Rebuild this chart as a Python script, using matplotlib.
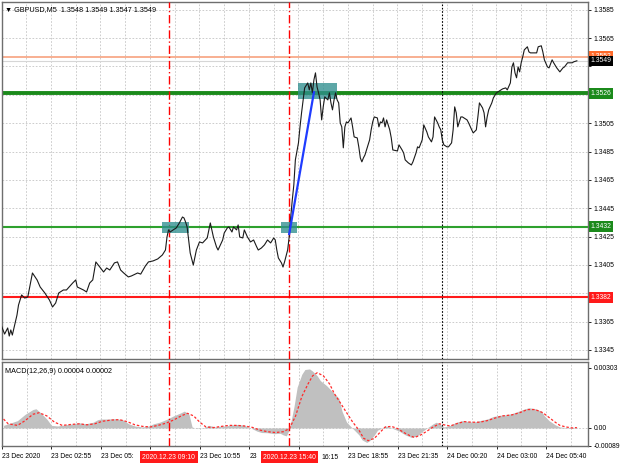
import matplotlib
matplotlib.use("Agg")
import matplotlib.pyplot as plt
import matplotlib.transforms as mtransforms
import numpy as np

plt.rcParams['font.family'] = ['Liberation Sans', 'DejaVu Sans']

# GBPUSD M5, bar index 0 = 23 Dec 00:15
price_bar = [0, 2, 4, 5, 6, 7, 9, 10, 11, 13, 15, 17, 20, 23, 25, 28, 31, 33, 35, 37,
             40, 42, 46, 48, 49, 53, 55, 57, 59, 61, 64, 66, 68, 70, 73, 75, 77, 79, 82, 84,
             88, 90, 93, 95, 98, 101, 104, 106, 107, 108, 109, 111, 113, 115, 117, 118, 119, 120, 121, 122,
             124, 126, 128, 130, 133, 135, 137, 139, 140, 143, 144, 146, 147, 149, 150, 152, 153, 154, 156, 157,
             159, 161, 163, 165, 166, 168, 170, 172, 174, 176, 177, 178, 179, 181, 182, 183, 185, 186, 187, 188,
             189, 190, 192, 193, 194, 195, 196, 198, 199, 200, 201, 202, 203, 204, 205, 206, 207, 208, 209, 211,
             212, 213, 214, 215, 216, 217, 218, 219, 220, 221, 222, 223, 224, 226, 227, 228, 230, 231, 232, 233,
             234, 235, 236, 238, 239, 240, 241, 243, 244, 245, 246, 247, 248, 249, 250, 251, 252, 253, 256, 257,
             259, 260, 261, 263, 265, 266, 268, 269, 270, 272, 273, 275, 276, 278, 279, 280, 282, 283, 284, 285,
             286, 288, 289, 291, 292, 293, 294, 295, 297, 298, 301, 302, 304, 305, 307, 308, 309, 311, 312, 313,
             314, 315, 317, 318, 320, 321, 323, 324, 326, 327, 329, 330, 331, 332, 333, 334, 335, 336, 337, 338,
             340, 341, 342, 344, 346, 347, 349, 350, 351, 353, 354, 356, 357, 359, 361, 363, 364, 366, 369, 370,
             372]
price_val = [1.33619, 1.33562, 1.33605, 1.33548, 1.33591, 1.33555, 1.33647, 1.33696, 1.33767, 1.33838,
             1.33816, 1.33824, 1.33993, 1.33944, 1.33894, 1.33852, 1.33802, 1.33753, 1.33781, 1.33852,
             1.33873, 1.33873, 1.33922, 1.33944, 1.33894, 1.33873, 1.33859, 1.33922, 1.33944, 1.34071,
             1.34028, 1.34000, 1.34028, 1.34014, 1.34064, 1.34071, 1.34014, 1.33993, 1.33965, 1.33972,
             1.33993, 1.33985, 1.34042, 1.34071, 1.34078, 1.34092, 1.34120, 1.34155, 1.34247, 1.34297,
             1.34282, 1.34297, 1.34311, 1.34346, 1.34388, 1.34381, 1.34353, 1.34318, 1.34226, 1.34134,
             1.34049, 1.34155, 1.34212, 1.34205, 1.34240, 1.34346, 1.34247, 1.34177, 1.34155, 1.34226,
             1.34275, 1.34311, 1.34318, 1.34282, 1.34318, 1.34297, 1.34332, 1.34247, 1.34240, 1.34297,
             1.34247, 1.34212, 1.34226, 1.34177, 1.34155, 1.34169, 1.34191, 1.34226, 1.34205, 1.34240,
             1.34226, 1.34155, 1.34099, 1.34064, 1.34035, 1.34071, 1.34155, 1.34247, 1.34388, 1.34508,
             1.34614, 1.34791, 1.34911, 1.35024, 1.35123, 1.35214, 1.35299, 1.35334, 1.35285, 1.35334,
             1.35264, 1.35356, 1.35405, 1.35306, 1.35264, 1.35214, 1.35073, 1.35165, 1.35236, 1.35214,
             1.35264, 1.35193, 1.35144, 1.35214, 1.35264, 1.35214, 1.35193, 1.35052, 1.35024, 1.34876,
             1.35024, 1.35059, 1.35052, 1.35087, 1.35024, 1.34953, 1.34946, 1.34883, 1.34805, 1.34777,
             1.34805, 1.34826, 1.34861, 1.34932, 1.35003, 1.35059, 1.35094, 1.35087, 1.35024, 1.35059,
             1.35052, 1.35087, 1.35024, 1.35073, 1.35038, 1.35003, 1.34946, 1.34861, 1.34854, 1.34897,
             1.34861, 1.34840, 1.34791, 1.34770, 1.34755, 1.34777, 1.34840, 1.34883, 1.34876, 1.34932,
             1.35038, 1.34988, 1.34953, 1.34918, 1.34953, 1.35094, 1.35052, 1.35024, 1.35003, 1.34932,
             1.34897, 1.34883, 1.34883, 1.34911, 1.35003, 1.35165, 1.35123, 1.35024, 1.35094, 1.35094,
             1.35073, 1.35052, 1.35003, 1.34981, 1.35003, 1.35094, 1.35193, 1.35158, 1.35123, 1.35024,
             1.35094, 1.35144, 1.35193, 1.35228, 1.35264, 1.35271, 1.35285, 1.35292, 1.35299, 1.35285,
             1.35334, 1.35447, 1.35476, 1.35405, 1.35370, 1.35447, 1.35412, 1.35476, 1.35518, 1.35567,
             1.35589, 1.35553, 1.35546, 1.35546, 1.35546, 1.35589, 1.35596, 1.35553, 1.35497, 1.35447,
             1.35440, 1.35497, 1.35476, 1.35440, 1.35412, 1.35440, 1.35447, 1.35476, 1.35476, 1.35483,
             1.35490]

# MACD(12,26,9) histogram and signal
hist_bar = [1, 10, 15, 20, 22, 25, 29, 32, 36, 41, 46, 50, 54, 59, 62, 64, 68, 73, 78, 82,
            86, 91, 95, 98, 102, 107, 111, 115, 118, 121, 123, 126, 130, 134, 138, 142, 145, 149, 153, 157,
            161, 165, 168, 172, 176, 180, 182, 184, 186, 189, 191, 194, 196, 199, 201, 204, 206, 210, 214, 218,
            220, 223, 226, 228, 231, 233, 236, 238, 241, 243, 246, 248, 251, 253, 257, 261, 265, 269, 271, 274,
            276, 279, 281, 284, 286, 290, 294, 298, 302, 305, 309, 314, 318, 322, 326, 330, 333, 337, 341, 345,
            349, 351, 354, 358, 361, 365, 369, 372]
hist_val = [0.00013, 0.00037, 0.00069, 0.00093, 0.00097, 0.00077, 0.00045, 0.00013, 0.00010, 0.00016,
            0.00021, 0.00026, 0.00021, 0.00029, 0.00042, 0.00045, 0.00045, 0.00047, 0.00042, 0.00021,
            0.00010, 0.00005, 0.00010, 0.00021, 0.00029, 0.00045, 0.00061, 0.00074, 0.00085, 0.00069,
            0.00005, -0.00003, 0.00000, 0.00013, 0.00005, 0.00010, 0.00010, 0.00016, 0.00018, 0.00013,
            0.00000, -0.00016, -0.00023, -0.00024, -0.00029, -0.00027, -0.00035, -0.00040, -0.00006, 0.00110,
            0.00206, 0.00271, 0.00295, 0.00298, 0.00287, 0.00263, 0.00239, 0.00214, 0.00182, 0.00150,
            0.00085, 0.00029, 0.00005, -0.00011, -0.00035, -0.00060, -0.00073, -0.00064, -0.00035, -0.00011,
            0.00000, 0.00010, 0.00005, -0.00003, -0.00016, -0.00035, -0.00048, -0.00039, -0.00023, -0.00006,
            0.00005, 0.00021, 0.00029, 0.00016, 0.00005, 0.00013, 0.00029, 0.00037, 0.00032, 0.00029,
            0.00037, 0.00045, 0.00058, 0.00064, 0.00066, 0.00073, 0.00081, 0.00093, 0.00102, 0.00097,
            0.00085, 0.00061, 0.00037, 0.00016, 0.00005, 0.00002, 0.00003, 0.00004]
sig_bar = [1, 4, 10, 15, 20, 24, 29, 34, 39, 45, 50, 55, 60, 65, 71, 76, 81, 86, 91, 96,
           101, 106, 111, 116, 120, 124, 128, 132, 137, 142, 147, 152, 157, 162, 167, 172, 177, 182, 186, 190,
           194, 198, 201, 204, 208, 212, 215, 219, 223, 227, 231, 234, 237, 241, 245, 248, 252, 256, 260, 264,
           267, 271, 275, 279, 283, 286, 290, 294, 299, 304, 309, 314, 319, 324, 330, 335, 340, 345, 350, 354,
           358, 361, 365, 369, 372]
sig_val = [0.00045, 0.00021, 0.00013, 0.00037, 0.00069, 0.00077, 0.00061, 0.00029, 0.00013, 0.00018,
           0.00021, 0.00016, 0.00021, 0.00034, 0.00040, 0.00042, 0.00032, 0.00016, 0.00008, 0.00005,
           0.00013, 0.00024, 0.00040, 0.00061, 0.00074, 0.00061, 0.00029, 0.00005, 0.00002, 0.00008,
           0.00013, 0.00013, 0.00010, 0.00003, -0.00011, -0.00019, -0.00023, -0.00019, -0.00003, 0.00061,
           0.00158, 0.00222, 0.00263, 0.00279, 0.00263, 0.00222, 0.00174, 0.00126, 0.00077, 0.00029,
           -0.00011, -0.00052, -0.00064, -0.00052, -0.00019, 0.00005, 0.00008, -0.00003, -0.00023, -0.00039,
           -0.00048, -0.00035, -0.00016, 0.00005, 0.00021, 0.00016, 0.00010, 0.00021, 0.00032, 0.00029,
           0.00029, 0.00037, 0.00050, 0.00061, 0.00066, 0.00077, 0.00093, 0.00093, 0.00077, 0.00053,
           0.00029, 0.00013, 0.00005, 0.00000, 0.00002]

# time labels; the ones under the red markers are cut off as in the terminal
time_ticks = [0, 32, 64, 96, 128, 160, 192, 224, 256, 288, 320, 352]
time_labels = ['23 Dec 2020', '23 Dec 02:55', '23 Dec 05:', '', '23 Dec 10:55',
               '23', '', '23 Dec 18:55', '23 Dec 21:35', '24 Dec 00:20',
               '24 Dec 03:00', '24 Dec 05:40']
cut_label = '16:15'
cut_label_bar = 206.6
price_ticks = [1.3345, 1.3365, 1.3385, 1.3405, 1.3425, 1.3445, 1.3465, 1.3485, 1.3505,
               1.3525, 1.3545, 1.3565, 1.3585]
price_tick_labels = ['1.3345', '1.3365', '', '1.3405', '1.3425', '1.3445', '1.3465', '1.3485',
                     '1.3505', '', '', '1.3565', '1.3585']
macd_ticks = [-0.00089, 0.0, 0.00303]
macd_tick_labels = ['-0.00089', '0.00', '0.00303']

# levels and markup
level_green_top = 1.3526
level_green_mid = 1.3432
level_red = 1.3382
level_orange = 1.3552
last_price = 1.3549
signal_bars = [108, 186]
signal_labels = ['2020.12.23 09:10', '2020.12.23 15:40']
day_sep_bar = 285
boxes = [(104, 121, 1.34275, 1.34353), (181, 191, 1.34275, 1.34353), (192, 217, 1.35221, 1.35334)]
blue_bar = [186, 202]
blue_val = [1.34268, 1.35268]

W, H = 620, 465
fig = plt.figure(figsize=(6.2, 4.65), dpi=100)


def rect(l, t, r, b):
    return [l / W, 1 - b / H, (r - l) / W, (b - t) / H]


ax = fig.add_axes(rect(2, 2, 588, 359))
axm = fig.add_axes(rect(2, 362, 588, 446))

grid_kw = dict(color='#c4c4c4', lw=0.6, ls=(0, (2, 2)), zorder=0)
fs = 4.9

for a in (ax, axm):
    a.set_xlim(0.32, 379.2)
    for s in a.spines.values():
        s.set_color('#6e6e6e')
        s.set_linewidth(1.0)
    for gx in np.arange(16, 379, 16):
        a.axvline(gx, **grid_kw)
    for sb in signal_bars:
        a.axvline(sb, color='#ff0000', lw=1.0, ls=(0, (6, 2, 1, 2)), zorder=3)
    a.axvline(day_sep_bar, color='black', lw=0.8, ls=(0, (1.5, 1.5)), zorder=3)

# main price panel
ax.set_ylim(1.33386, 1.35905)
for py in price_ticks:
    ax.axhline(py, **grid_kw)
ax.yaxis.tick_right()
ax.set_yticks(price_ticks)
ax.set_yticklabels(price_tick_labels, fontsize=fs)
ax.tick_params(axis='y', length=2.5, width=0.6, pad=1.5, colors='black')
ax.set_xticks([])

ax.axhline(level_orange, color='#f7a27f', lw=1.2, zorder=2)
ax.axhline(last_price, color='#d6d6d6', lw=0.8, zorder=2)
ax.axhline(level_green_top, color='#1b8a1b', lw=2.8, zorder=2)
ax.axhline(level_green_mid, color='#2ea12e', lw=1.5, zorder=2)
ax.axhline(level_red, color='#ff1a1a', lw=1.5, zorder=2)

for b0, b1, p0, p1 in boxes:
    ax.fill_between([b0, b1], p0, p1, color='#2f8f8f', alpha=0.78, lw=0, zorder=4)

ax.plot(price_bar, price_val, color='#1a1a1a', lw=0.8, zorder=5)
ax.plot(blue_bar, blue_val, color='#1f3cff', lw=1.6, zorder=6)

ytr = mtransforms.blended_transform_factory(ax.transAxes, ax.transData)
tags = [(level_orange, '1.3552', '#ff6a2a'), (last_price, '1.3549', 'black'),
        (level_green_top, '1.3526', '#1b8a1b'), (level_green_mid, '1.3432', '#1b8a1b'),
        (level_red, '1.3382', '#ff1a1a')]
for val, txt, col in tags:
    ax.text(1.004, val, txt, transform=ytr, fontsize=fs, color='white', ha='left', va='center',
            clip_on=False, zorder=10,
            bbox=dict(boxstyle='square,pad=0.25', fc=col, ec='none'))

fig.text(5 / W, 1 - 10 / H, '\u25bc GBPUSD,M5  1.3548 1.3549 1.3547 1.3549', fontsize=5.2,
         ha='left', va='center', color='black')

# MACD panel
axm.set_ylim(-0.00091, 0.00333)
axm.axhline(0, **grid_kw)
axm.fill_between(hist_bar, hist_val, 0, color='#c0c0c0', lw=0, zorder=2)
axm.plot(sig_bar, sig_val, color='#ff2a2a', lw=0.9, ls=(0, (2, 1.5)), zorder=4)
axm.yaxis.tick_right()
axm.set_yticks(macd_ticks)
axm.set_yticklabels(macd_tick_labels, fontsize=fs)
axm.tick_params(axis='y', length=2.5, width=0.6, pad=1.5)
axm.set_xticks(time_ticks)
axm.set_xticklabels(time_labels, fontsize=fs, ha='left')
axm.tick_params(axis='x', length=2.5, width=0.6, pad=2.5)
fig.text(5 / W, 1 - 371 / H, 'MACD(12,26,9) 0.00004 0.00002', fontsize=5.2,
         ha='left', va='center', color='black')

xtr = mtransforms.blended_transform_factory(axm.transData, axm.transAxes)
axm.text(cut_label_bar, -0.09, cut_label, transform=xtr, fontsize=fs, color='black',
         ha='left', va='top', clip_on=False)
for sb, lab in zip(signal_bars, signal_labels):
    axm.text(sb, -0.09, lab, transform=xtr, fontsize=fs, color='white', ha='center', va='top',
             clip_on=False, zorder=10,
             bbox=dict(boxstyle='square,pad=0.35', fc='#ff1a1a', ec='none'))

fig.savefig('out.png', dpi=100, facecolor='white')
